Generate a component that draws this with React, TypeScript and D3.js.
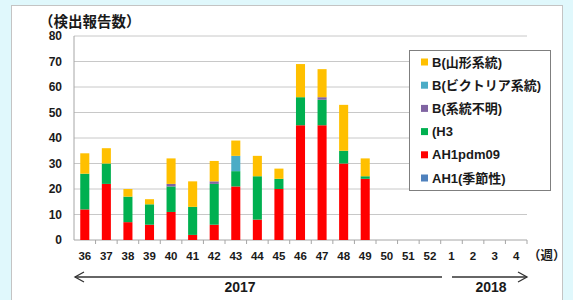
import { scaleBand, scaleLinear, stack } from "d3";

const weeks = ["36", "37", "38", "39", "40", "41", "42", "43", "44", "45", "46", "47", "48", "49", "50", "51", "52", "1", "2", "3", "4"];

// stacked bottom -> top
const ah1Seasonal = [0, 0, 0, 0, 0, 0, 0, 0, 0, 0, 0, 0, 0, 0, 0, 0, 0, 0, 0, 0, 0];
const ah1pdm09 = [12, 22, 7, 6, 11, 2, 6, 21, 8, 20, 45, 45, 30, 24, 0, 0, 0, 0, 0, 0, 0];
const h3 = [14, 8, 10, 8, 10, 11, 16, 6, 17, 4, 11, 10, 5, 1, 0, 0, 0, 0, 0, 0, 0];
const bUnknown = [0, 0, 0, 0, 1, 0, 1, 0, 0, 0, 0, 1, 0, 0, 0, 0, 0, 0, 0, 0, 0];
const bVictoria = [0, 0, 0, 0, 0, 0, 0, 6, 0, 0, 0, 0, 0, 0, 0, 0, 0, 0, 0, 0, 0];
const bYamagata = [8, 6, 3, 2, 10, 10, 8, 6, 8, 4, 13, 11, 18, 7, 0, 0, 0, 0, 0, 0, 0];

const yTicks = [0, 10, 20, 30, 40, 50, 60, 70, 80];

const series = [
  { key: "ah1", label: "AH1(季節性)", color: "#4f81bd", values: ah1Seasonal },
  { key: "pdm", label: "AH1pdm09", color: "#ff0000", values: ah1pdm09 },
  { key: "h3", label: "(H3", color: "#00b050", values: h3 },
  { key: "bu", label: "B(系統不明)", color: "#8064a2", values: bUnknown },
  { key: "bv", label: "B(ビクトリア系統)", color: "#4bacc6", values: bVictoria },
  { key: "by", label: "B(山形系統)", color: "#ffc000", values: bYamagata },
];

const W = 573;
const H = 300;
const margin = { left: 74, right: 46, top: 36, bottom: 60 };
const font = "'Liberation Sans', Arial, 'Noto Sans CJK JP', sans-serif";
const textColor = "#1a1a1a";

export default function App() {
  const x = scaleBand<string>()
    .domain(weeks)
    .range([margin.left, W - margin.right])
    .paddingInner(0.58)
    .paddingOuter(0.29);
  const y = scaleLinear().domain([0, 80]).range([H - margin.bottom, margin.top]);

  const rows = weeks.map((w, i) => {
    const r: Record<string, number | string> = { week: w };
    series.forEach((s) => (r[s.key] = s.values[i]));
    return r;
  });
  const stacked = stack<Record<string, number | string>>().keys(series.map((s) => s.key))(rows as any);

  const step = x.step();
  const x0 = margin.left;
  const x1 = W - margin.right;
  const arrowY = 277;

  return (
    <div style={{ position: "absolute", left: 0, top: 0 }}>
      <svg width={W} height={H} style={{ display: "block", fontFamily: font }}>
        <rect x={0} y={0} width={W} height={H} fill="#e0f8fc" />
        <rect x={11.5} y={5.5} width={551} height={H} fill="#ffffff" stroke="#c4c4c4" />

        {/* title */}
        <text x={39} y={27} fontSize={14.5} fontWeight="bold" fill={textColor}>
          （検出報告数）
        </text>

        {/* grid */}
        {yTicks.map((t) => (
          <g key={t}>
            <line x1={x0} x2={x1} y1={y(t)} y2={y(t)} stroke={t === 0 ? "#a6a6a6" : "#c8c8c8"} strokeWidth={1} />
            <text x={62} y={y(t) + 4} textAnchor="end" fontSize={12} fontWeight="bold" fill={textColor}>
              {t}
            </text>
          </g>
        ))}
        <line x1={x0} x2={x0} y1={y(80)} y2={y(0)} stroke="#a6a6a6" />

        {/* x ticks */}
        {weeks.map((w, i) => (
          <line key={w} x1={x0 + step * (i + 1)} x2={x0 + step * (i + 1)} y1={y(0)} y2={y(0) + 4} stroke="#a6a6a6" />
        ))}

        {/* bars */}
        {stacked.map((layer, li) => (
          <g key={series[li].key} fill={series[li].color}>
            {layer.map((d, i) =>
              d[1] - d[0] > 0 ? (
                <rect
                  key={i}
                  x={x(weeks[i])}
                  y={y(d[1])}
                  width={x.bandwidth()}
                  height={y(d[0]) - y(d[1])}
                />
              ) : null
            )}
          </g>
        ))}

        {/* x labels */}
        {weeks.map((w) => (
          <text
            key={w}
            x={(x(w) ?? 0) + x.bandwidth() / 2}
            y={260}
            textAnchor="middle"
            fontSize={11.5}
            fontWeight="bold"
            fill={textColor}
          >
            {w}
          </text>
        ))}
        <text x={528} y={260} fontSize={12.5} fontWeight="bold" fill={textColor}>
          （週）
        </text>

        {/* year arrows */}
        <g stroke="#333" strokeWidth={1.3} fill="none">
          <line x1={75} x2={442} y1={arrowY} y2={arrowY} />
          <polyline points={`84,${arrowY - 5} 75,${arrowY} 84,${arrowY + 5}`} />
          <line x1={452} x2={527} y1={arrowY} y2={arrowY} />
          <polyline points={`518,${arrowY - 5} 527,${arrowY} 518,${arrowY + 5}`} />
        </g>
        <text x={240} y={292} textAnchor="middle" fontSize={14} fontWeight="bold" fill={textColor}>
          2017
        </text>
        <text x={491} y={292} textAnchor="middle" fontSize={14} fontWeight="bold" fill={textColor}>
          2018
        </text>

        {/* legend */}
        <rect x={409.5} y={50.5} width={141} height={140} fill="#ffffff" stroke="#7f7f7f" />
        {series
          .slice()
          .reverse()
          .map((s, i) => {
            const cy = 62 + i * 23.2;
            return (
              <g key={s.key}>
                <rect x={421} y={cy - 3.5} width={7} height={7} fill={s.color} />
                <text x={432} y={cy + 4.5} fontSize={13} fontWeight="bold" fill={textColor}>
                  {s.label}
                </text>
              </g>
            );
          })}
      </svg>
    </div>
  );
}
